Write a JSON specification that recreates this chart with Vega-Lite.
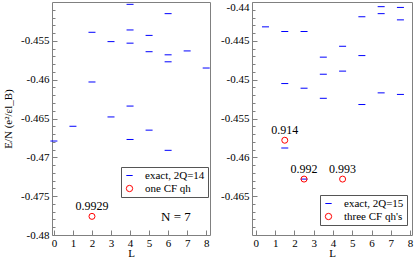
{
  "$schema": "https://vega.github.io/schema/vega-lite/v6.json",
  "padding": {"left": 2, "top": 0, "right": 0, "bottom": 0},
  "background": "white",
  "bounds": "flush",
  "spacing": 42,
  "resolve": {"scale": {"color": "independent", "shape": "independent"}},
  "config": {
    "view": {"stroke": "#808080", "strokeWidth": 1},
    "font": "Liberation Serif",
    "axis": {"domain": false, "grid": false, "tickColor": "#808080", "tickSize": -5, "tickWidth": 1, "labelFont": "Liberation Serif", "labelFontSize": 11, "labelColor": "black", "labelOverlap": false, "labelBound": false, "titleFont": "Liberation Serif", "titleFontSize": 11, "titleFontWeight": "normal", "titleColor": "black"},
    "legend": {"orient": "none", "strokeColor": "#555555", "fillColor": "white", "padding": 3, "labelFont": "Liberation Serif", "labelFontSize": 11, "labelColor": "black", "symbolSize": 40, "symbolStrokeWidth": 1, "labelOffset": 10, "rowPadding": 1, "title": null, "cornerRadius": 0}
  },
  "hconcat": [
    {
      "width": 158,
      "height": 233,
      "resolve": {"axis": {"y": "independent"}},
      "layer": [
        {
          "data": {"values": [
            {"L": 0, "E": -0.4679, "s": "exact, 2Q=14"},
            {"L": 1, "E": -0.4660, "s": "exact, 2Q=14"},
            {"L": 2, "E": -0.4539, "s": "exact, 2Q=14"},
            {"L": 2, "E": -0.4603, "s": "exact, 2Q=14"},
            {"L": 3, "E": -0.4551, "s": "exact, 2Q=14"},
            {"L": 3, "E": -0.4648, "s": "exact, 2Q=14"},
            {"L": 4, "E": -0.4503, "s": "exact, 2Q=14"},
            {"L": 4, "E": -0.4536, "s": "exact, 2Q=14"},
            {"L": 4, "E": -0.4553, "s": "exact, 2Q=14"},
            {"L": 4, "E": -0.4634, "s": "exact, 2Q=14"},
            {"L": 4, "E": -0.4677, "s": "exact, 2Q=14"},
            {"L": 5, "E": -0.4543, "s": "exact, 2Q=14"},
            {"L": 5, "E": -0.4564, "s": "exact, 2Q=14"},
            {"L": 5, "E": -0.4665, "s": "exact, 2Q=14"},
            {"L": 6, "E": -0.4515, "s": "exact, 2Q=14"},
            {"L": 6, "E": -0.4568, "s": "exact, 2Q=14"},
            {"L": 6, "E": -0.4577, "s": "exact, 2Q=14"},
            {"L": 6, "E": -0.4691, "s": "exact, 2Q=14"},
            {"L": 7, "E": -0.4563, "s": "exact, 2Q=14"},
            {"L": 8, "E": -0.4585, "s": "exact, 2Q=14"}
          ]},
          "mark": {"type": "point", "filled": false, "strokeWidth": 1, "size": 49, "opacity": 1},
          "encoding": {
            "x": {"field": "L", "type": "quantitative", "scale": {"domain": [-0.1, 8.2], "nice": false, "zero": false}, "axis": {"values": [0, 1, 2, 3, 4, 5, 6, 7, 8], "format": "d", "title": "L", "labelPadding": 7, "titleY": 12, "titleBaseline": "top", "labelOverlap": false, "labelFlush": false}},
            "y": {"field": "E", "type": "quantitative", "scale": {"domain": [-0.48, -0.45], "nice": false, "zero": false}, "axis": {"orient": "left", "values": [-0.48, -0.475, -0.47, -0.465, -0.46, -0.455], "labelExpr": "replace(format(datum.value, '.3~f'), '\u2212', '-')", "labelPadding": 8, "labelOverlap": false, "labelFlush": false, "title": "E/N (e²/εl_B)", "titlePadding": 7}},
            "color": {"field": "s", "type": "nominal", "scale": {"domain": ["exact, 2Q=14", "one CF qh"], "range": ["#0000ff", "#ff0000"]}, "legend": {"legendX": 69, "legendY": 165}},
            "shape": {"field": "s", "type": "nominal", "scale": {"domain": ["exact, 2Q=14", "one CF qh"], "range": ["M-1,0L1,0", "circle"]}, "legend": {"legendX": 69, "legendY": 165}}
          }
        },
        {
          "data": {"values": [{"L": 2, "E": -0.4776, "s": "one CF qh", "lab": "0.9929"}]},
          "mark": {"type": "point", "filled": false, "strokeWidth": 1, "size": 36, "opacity": 1},
          "encoding": {
            "x": {"field": "L", "type": "quantitative", "scale": {"domain": [-0.1, 8.2], "nice": false, "zero": false}, "axis": {"values": [0, 1, 2, 3, 4, 5, 6, 7, 8], "format": "d", "title": "L", "labelPadding": 7, "titleY": 12, "titleBaseline": "top", "labelOverlap": false, "labelFlush": false}},
            "y": {"field": "E", "type": "quantitative", "axis": {"orient": "left", "values": [-0.479, -0.478, -0.477, -0.476, -0.474, -0.473, -0.472, -0.471, -0.469, -0.468, -0.467, -0.466, -0.464, -0.463, -0.462, -0.461, -0.459, -0.458, -0.457, -0.456, -0.454, -0.453, -0.452, -0.451], "labels": false, "tickSize": -3, "title": null}},
            "color": {"field": "s", "type": "nominal"},
            "shape": {"field": "s", "type": "nominal"}
          }
        },
        {
          "data": {"values": [{"L": 2, "E": -0.4776, "lab": "0.9929"}]},
          "mark": {"type": "text", "dy": -10, "fontSize": 12, "font": "Liberation Serif", "color": "black"},
          "encoding": {
            "x": {"field": "L", "type": "quantitative", "scale": {"domain": [-0.1, 8.2], "nice": false, "zero": false}, "axis": {"values": [0, 1, 2, 3, 4, 5, 6, 7, 8], "format": "d", "title": "L", "labelPadding": 7, "titleY": 12, "titleBaseline": "top", "labelOverlap": false, "labelFlush": false}},
            "y": {"field": "E", "type": "quantitative", "axis": null},
            "text": {"field": "lab"}
          }
        },
        {
          "data": {"values": [{"L": 6.41, "E": -0.4777, "lab": "N = 7"}]},
          "mark": {"type": "text", "fontSize": 13, "font": "Liberation Serif", "color": "black"},
          "encoding": {
            "x": {"field": "L", "type": "quantitative", "scale": {"domain": [-0.1, 8.2], "nice": false, "zero": false}, "axis": {"values": [0, 1, 2, 3, 4, 5, 6, 7, 8], "format": "d", "title": "L", "labelPadding": 7, "titleY": 12, "titleBaseline": "top", "labelOverlap": false, "labelFlush": false}},
            "y": {"field": "E", "type": "quantitative", "axis": null},
            "text": {"field": "lab"}
          }
        }
      ]
    },
    {
      "width": 160,
      "height": 233,
      "resolve": {"axis": {"y": "independent"}},
      "layer": [
        {
          "data": {"values": [
            {"L": 0.5, "E": -0.4432, "s": "exact, 2Q=15"},
            {"L": 1.5, "E": -0.4438, "s": "exact, 2Q=15"},
            {"L": 1.5, "E": -0.4505, "s": "exact, 2Q=15"},
            {"L": 1.5, "E": -0.4588, "s": "exact, 2Q=15"},
            {"L": 2.5, "E": -0.4438, "s": "exact, 2Q=15"},
            {"L": 2.5, "E": -0.4511, "s": "exact, 2Q=15"},
            {"L": 2.5, "E": -0.4628, "s": "exact, 2Q=15"},
            {"L": 3.5, "E": -0.4471, "s": "exact, 2Q=15"},
            {"L": 3.5, "E": -0.4493, "s": "exact, 2Q=15"},
            {"L": 3.5, "E": -0.4524, "s": "exact, 2Q=15"},
            {"L": 4.5, "E": -0.4457, "s": "exact, 2Q=15"},
            {"L": 4.5, "E": -0.4489, "s": "exact, 2Q=15"},
            {"L": 5.5, "E": -0.4419, "s": "exact, 2Q=15"},
            {"L": 5.5, "E": -0.4469, "s": "exact, 2Q=15"},
            {"L": 5.5, "E": -0.4532, "s": "exact, 2Q=15"},
            {"L": 6.5, "E": -0.4406, "s": "exact, 2Q=15"},
            {"L": 6.5, "E": -0.4415, "s": "exact, 2Q=15"},
            {"L": 6.5, "E": -0.4517, "s": "exact, 2Q=15"},
            {"L": 7.5, "E": -0.4407, "s": "exact, 2Q=15"},
            {"L": 7.5, "E": -0.4423, "s": "exact, 2Q=15"},
            {"L": 7.5, "E": -0.4519, "s": "exact, 2Q=15"}
          ]},
          "mark": {"type": "point", "filled": false, "strokeWidth": 1, "size": 49, "opacity": 1},
          "encoding": {
            "x": {"field": "L", "type": "quantitative", "scale": {"domain": [-0.2, 8.1], "nice": false, "zero": false}, "axis": {"values": [0, 1, 2, 3, 4, 5, 6, 7, 8], "format": "d", "title": "L", "labelPadding": 7, "titleY": 12, "titleBaseline": "top", "labelOverlap": false, "labelFlush": false}},
            "y": {"field": "E", "type": "quantitative", "scale": {"domain": [-0.47, -0.44], "nice": false, "zero": false}, "axis": {"orient": "left", "values": [-0.465, -0.46, -0.455, -0.45, -0.445, -0.44], "labelExpr": "replace(format(datum.value, '.3~f'), '\u2212', '-')", "labelPadding": 8, "labelOverlap": false, "labelFlush": true, "labelFlushOffset": 1, "title": null}},
            "color": {"field": "s", "type": "nominal", "scale": {"domain": ["exact, 2Q=15", "three CF qh's"], "range": ["#0000ff", "#ff0000"]}, "legend": {"legendX": 68, "legendY": 193}},
            "shape": {"field": "s", "type": "nominal", "scale": {"domain": ["exact, 2Q=15", "three CF qh's"], "range": ["M-1,0L1,0", "circle"]}, "legend": {"legendX": 68, "legendY": 193}}
          }
        },
        {
          "data": {"values": [
            {"L": 1.5, "E": -0.4578, "s": "three CF qh's"},
            {"L": 2.5, "E": -0.4628, "s": "three CF qh's"},
            {"L": 4.5, "E": -0.4628, "s": "three CF qh's"}
          ]},
          "mark": {"type": "point", "filled": false, "strokeWidth": 1, "size": 36, "opacity": 1},
          "encoding": {
            "x": {"field": "L", "type": "quantitative", "scale": {"domain": [-0.2, 8.1], "nice": false, "zero": false}, "axis": {"values": [0, 1, 2, 3, 4, 5, 6, 7, 8], "format": "d", "title": "L", "labelPadding": 7, "titleY": 12, "titleBaseline": "top", "labelOverlap": false, "labelFlush": false}},
            "y": {"field": "E", "type": "quantitative", "axis": {"orient": "left", "values": [-0.469, -0.468, -0.467, -0.466, -0.464, -0.463, -0.462, -0.461, -0.459, -0.458, -0.457, -0.456, -0.454, -0.453, -0.452, -0.451, -0.449, -0.448, -0.447, -0.446, -0.444, -0.443, -0.442, -0.441], "labels": false, "tickSize": -3, "title": null}},
            "color": {"field": "s", "type": "nominal"},
            "shape": {"field": "s", "type": "nominal"}
          }
        },
        {
          "data": {"values": [
            {"L": 1.5, "E": -0.4578, "lab": "0.914"},
            {"L": 2.5, "E": -0.4628, "lab": "0.992"},
            {"L": 4.5, "E": -0.4628, "lab": "0.993"}
          ]},
          "mark": {"type": "text", "dy": -10, "fontSize": 12, "font": "Liberation Serif", "color": "black"},
          "encoding": {
            "x": {"field": "L", "type": "quantitative", "scale": {"domain": [-0.2, 8.1], "nice": false, "zero": false}, "axis": {"values": [0, 1, 2, 3, 4, 5, 6, 7, 8], "format": "d", "title": "L", "labelPadding": 7, "titleY": 12, "titleBaseline": "top", "labelOverlap": false, "labelFlush": false}},
            "y": {"field": "E", "type": "quantitative", "axis": null},
            "text": {"field": "lab"}
          }
        }
      ]
    }
  ]
}
